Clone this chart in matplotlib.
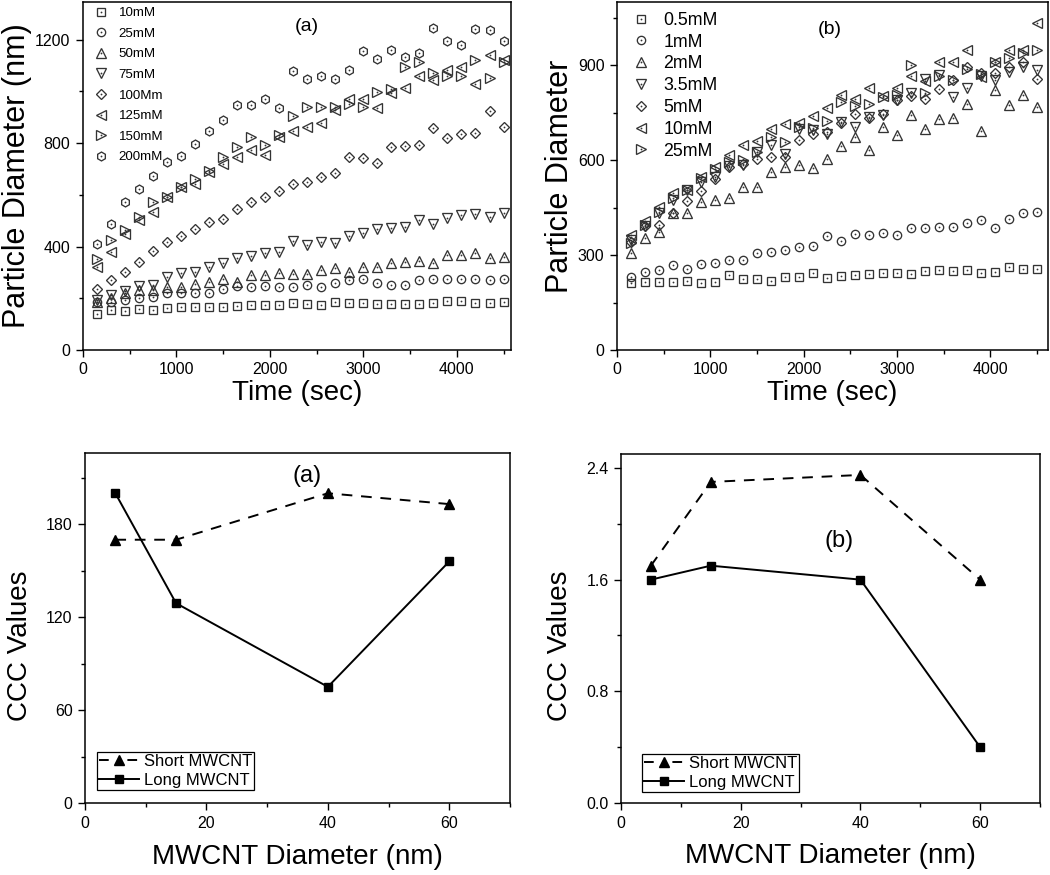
import matplotlib
matplotlib.use('Agg')
import matplotlib.pyplot as plt
from matplotlib.ticker import MultipleLocator

plt.rcParams['font.family'] = ['Liberation Sans', 'DejaVu Sans']

# ---------------- data ----------------
time_s = [150, 300, 450, 600, 750, 900, 1050, 1200, 1350, 1500,
          1650, 1800, 1950, 2100, 2250, 2400, 2550, 2700, 2850, 3000,
          3150, 3300, 3450, 3600, 3750, 3900, 4050, 4200, 4350, 4500]

labels_a = ['10mM', '25mM', '50mM', '75mM', '100Mm', '125mM', '150mM', '200mM']
a_10 = [139,155,151,157,155,161,165,168,168,168,171,172,172,172,180,176,174,185,183,180,178,178,178,178,180,189,189,183,183,187]
a_25 = [187,187,193,200,206,219,219,222,219,234,247,245,247,245,242,251,245,258,270,273,258,251,251,270,273,273,273,276,270,273]
a_50 = [187,200,219,232,232,242,242,255,264,273,264,290,290,296,294,294,309,316,303,322,322,335,341,345,337,367,367,374,354,361]
a_75 = [193,213,229,247,251,283,299,303,322,337,357,363,374,377,421,406,416,415,440,453,469,471,474,502,487,509,522,526,513,531]
a_100 = [237,270,303,340,384,416,442,469,496,506,546,571,592,616,641,650,667,685,747,741,721,783,788,792,857,820,835,840,925,863]
a_125 = [322,377,447,502,533,592,631,640,689,719,747,773,753,824,848,863,876,927,969,969,935,995,1011,1059,1043,1082,1092,1028,1140,1121]
a_150 = [350,425,464,515,573,592,631,661,693,747,783,824,792,831,905,938,938,938,951,938,998,1007,1095,1114,1069,1059,1059,1121,1050,1114]
a_200 = [410,487,571,621,672,728,750,796,848,889,947,947,969,936,1079,1047,1060,1047,1082,1157,1124,1159,1131,1146,1245,1194,1179,1240,1236,1194]
series_a = [a_10, a_25, a_50, a_75, a_100, a_125, a_150, a_200]
markers_a = ['s', 'o', '^', 'v', 'D', '<', '>', 'h']

labels_b = ['0.5mM', '1mM', '2mM', '3.5mM', '5mM', '10mM', '25mM']
b_05 = [211,216,216,216,219,213,216,237,226,223,219,232,232,244,229,234,237,240,244,244,240,249,253,251,253,244,246,261,255,255]
b_1 = [232,245,253,268,255,271,276,286,284,307,311,316,326,328,360,345,368,365,371,363,386,387,389,389,400,411,387,414,434,437]
b_2 = [307,355,374,432,432,468,474,481,514,516,563,579,586,576,604,645,674,632,705,679,742,700,729,734,779,692,823,774,805,768]
b_35 = [347,392,432,474,505,532,547,581,586,626,649,619,697,695,684,721,705,737,742,789,813,858,868,800,829,865,853,879,895,886]
b_5 = [342,392,395,432,471,503,542,579,589,603,611,611,663,684,689,718,747,732,747,789,803,793,826,853,895,874,876,893,911,858]
b_10 = [363,407,453,497,507,547,577,616,647,660,697,714,716,740,766,805,792,828,803,828,865,850,911,911,947,863,911,949,949,1034]
b_25 = [339,395,437,479,505,545,571,595,602,626,674,658,705,702,723,784,771,779,800,805,900,811,865,853,887,872,911,924,939,947]
series_b = [b_05, b_1, b_2, b_35, b_5, b_10, b_25]
markers_b = ['s', 'o', '^', 'v', 'D', '<', '>']

diameter_nm = [5, 15, 40, 60]
ccc_short_a = [170, 170, 200, 193]
ccc_long_a = [200, 129, 75, 156]
ccc_short_b = [1.70, 2.30, 2.35, 1.60]
ccc_long_b = [1.60, 1.70, 1.60, 0.40]

# ---------------- figure ----------------
W, H = 1050, 875
fig = plt.figure(figsize=(W / 100, H / 100), dpi=100)


def px_axes(left, top, right, bottom):
    return fig.add_axes([left / W, (H - bottom) / H, (right - left) / W, (bottom - top) / H])


EDGE = '#333333'
msizes = {'s': 5.3, 'o': 6.0, '^': 7.0, 'v': 7.0, 'D': 4.8, '<': 7.0, '>': 7.0, 'h': 6.4}


def style_axes(ax, tick_size):
    for sp in ax.spines.values():
        sp.set_linewidth(1.1)
        sp.set_color('black')
    ax.tick_params(which='both', direction='out', top=False, right=False,
                   labelsize=tick_size, width=1.0, colors='black')
    ax.tick_params(which='major', length=5, pad=4)
    ax.tick_params(which='minor', length=3)


def scatter_panel(ax, series, markers, labels, leg_size, leg_anchor, leg_kw):
    handles = []
    for ys, mk, lab in zip(series, markers, labels):
        ms = msizes[mk]
        h1, = ax.plot(time_s, ys, linestyle='none', marker=mk, ms=ms,
                      mfc='none', mec=EDGE, mew=0.95)
        h2, = ax.plot(time_s, ys, linestyle='none', marker='o', ms=1.3,
                      mfc=EDGE, mec=EDGE, mew=0)
        handles.append((h1, h2))
    ax.legend(handles, labels, loc='upper left', bbox_to_anchor=leg_anchor,
              frameon=False, fontsize=leg_size, borderaxespad=0, borderpad=0,
              handlelength=1.0, **leg_kw)


# ---- top-left (a) ----
ax1 = px_axes(83, 2, 511, 350)
scatter_panel(ax1, series_a, markers_a, labels_a, 9.6, (0.026, 0.986),
              dict(handletextpad=0.85, labelspacing=0.62))
ax1.set_xlim(0, 4580)
ax1.set_ylim(0, 1345)
ax1.xaxis.set_major_locator(MultipleLocator(1000))
ax1.xaxis.set_minor_locator(MultipleLocator(500))
ax1.yaxis.set_major_locator(MultipleLocator(400))
ax1.yaxis.set_minor_locator(MultipleLocator(200))
style_axes(ax1, 11.5)
ax1.set_xlabel('Time (sec)', fontsize=20)
ax1.set_ylabel('Particle Diameter (nm)', fontsize=22)
ax1.xaxis.set_label_coords(0.5, -0.085)
ax1.yaxis.set_label_coords(-0.118, 0.5)
ax1.text(2400, 1250, '(a)', fontsize=14, ha='center', va='center')

# ---- top-right (b) ----
ax2 = px_axes(617, 2, 1048, 350)
scatter_panel(ax2, series_b, markers_b, labels_b, 12.8, (0.035, 0.972),
              dict(handletextpad=0.75, labelspacing=0.27))
ax2.set_xlim(0, 4620)
ax2.set_ylim(0, 1100)
ax2.xaxis.set_major_locator(MultipleLocator(1000))
ax2.xaxis.set_minor_locator(MultipleLocator(500))
ax2.yaxis.set_major_locator(MultipleLocator(300))
ax2.yaxis.set_minor_locator(MultipleLocator(150))
style_axes(ax2, 11.5)
ax2.set_xlabel('Time (sec)', fontsize=20)
ax2.set_ylabel('Particle Diameter', fontsize=22)
ax2.xaxis.set_label_coords(0.5, -0.085)
ax2.yaxis.set_label_coords(-0.097, 0.5)
ax2.text(2283, 1012, '(b)', fontsize=14, ha='center', va='center')


def ccc_panel(ax, short, long_, anchor):
    ax.plot(diameter_nm, short, color='black', lw=1.4, dashes=(5.5, 4.5),
            marker='^', ms=7, mfc='black', mec='black', label='Short MWCNT')
    ax.plot(diameter_nm, long_, color='black', lw=1.4, linestyle='-',
            marker='s', ms=6, mfc='black', mec='black', label='Long MWCNT')
    leg = ax.legend(loc='lower left', bbox_to_anchor=anchor, borderaxespad=0,
                    fontsize=12, fancybox=False, framealpha=1, edgecolor='black',
                    handlelength=2.35, handletextpad=0.3, labelspacing=0.2,
                    borderpad=0.15)
    leg.get_frame().set_linewidth(0.9)
    # symmetric "- marker -" look for the dashed legend sample
    leg.get_lines()[0].set_dashes((5.0, 9.6))
    ax.set_xlim(0, 70)
    ax.xaxis.set_major_locator(MultipleLocator(20))
    ax.xaxis.set_minor_locator(MultipleLocator(10))
    style_axes(ax, 11.5)
    ax.set_xlabel('MWCNT Diameter (nm)', fontsize=20)
    ax.set_ylabel('CCC Values', fontsize=20)


# ---- bottom-left (a) ----
ax3 = px_axes(85, 453, 510, 803)
ccc_panel(ax3, ccc_short_a, ccc_long_a, (0.028, 0.037))
ax3.set_ylim(0, 226)
ax3.yaxis.set_major_locator(MultipleLocator(60))
ax3.yaxis.set_minor_locator(MultipleLocator(30))
ax3.xaxis.set_label_coords(0.5, -0.116)
ax3.yaxis.set_label_coords(-0.122, 0.449)
ax3.text(36.5, 211, '(a)', fontsize=17, ha='center', va='center')

# ---- bottom-right (b) ----
ax4 = px_axes(621, 454, 1040, 803)
ccc_panel(ax4, ccc_short_b, ccc_long_b, (0.05, 0.0315))
ax4.set_ylim(0, 2.5)
ax4.yaxis.set_major_locator(MultipleLocator(0.8))
ax4.yaxis.set_minor_locator(MultipleLocator(0.4))
ax4.xaxis.set_label_coords(0.5, -0.114)
ax4.yaxis.set_label_coords(-0.115, 0.45)
ax4.text(36.4, 1.876, '(b)', fontsize=17, ha='center', va='center')

fig.savefig('out.png', dpi=100)
